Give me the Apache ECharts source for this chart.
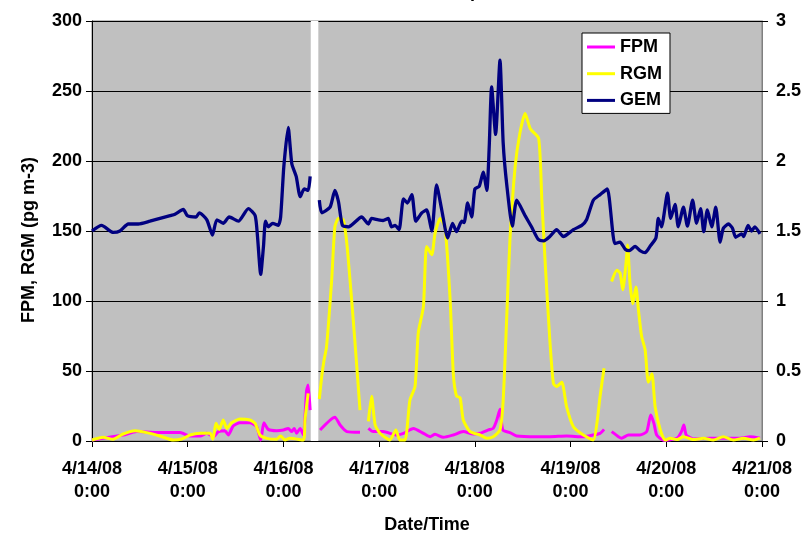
<!DOCTYPE html>
<html>
<head>
<meta charset="utf-8">
<script src="https://cdn.jsdelivr.net/npm/echarts@6/dist/echarts.min.js"></script>
<style>html,body{margin:0;padding:0;background:#fff}#c{width:805px;height:539px}</style>
</head>
<body>
<div id="c"></div>
<script>
// x axis: hours since 4/14/08 0:00
var xTickLabels = ['4/14/08\n0:00','4/15/08\n0:00','4/16/08\n0:00','4/17/08\n0:00','4/18/08\n0:00','4/19/08\n0:00','4/20/08\n0:00','4/21/08\n0:00'];
var leftTickLabels = ['0','50','100','150','200','250','300'];
var rightTickLabels = ['0','0.5','1','1.5','2','2.5','3'];
var seriesNames = ['FPM','RGM','GEM'];
var gapHours = [54.85, 56.75];

var fpmHours = [0,7.8,11.2,16.2,22.1,24.6,27.1,28.8,30.4,31.7,33.3,34.2,35.4,37.1,39.6,41.3,42.3,43.1,44.2,46.3,48,49.2,50.1,50.7,51.3,52.2,53,53.8,54.2,54.7,55.8,57.2,60.9,62.2,63.9,67.2,68.2,69.3,70.5,73,76.4,78.1,80.6,83.1,84.8,86,88.1,90.6,93.1,95.6,97.3,99.4,100.6,101.5,102.3,103,104.8,106.5,111.5,114.8,119,123.2,125.7,127.4,128.4,129.3,130.3,132,132.8,134.5,137.4,139.1,140.1,140.9,141.6,143.3,146.7,147.8,148.4,149,150.8,155,159,162.5,165,167.5];
var fpmValues = [0.7,4.3,6.7,6,6,3.6,3.6,5.5,3.1,6.7,7.4,4.3,10.7,13,13,10.2,0.7,13,8.3,7.4,7.9,9,6.7,9,5.5,9,4.3,36,40,22,null,7.9,17,11.4,6.7,6.2,null,9,6.7,6.7,4.3,5.5,9,5.5,3.1,4.8,2.6,4.3,6.7,5,5.5,7.9,9,15,22.6,7.9,6,3.6,3.1,3.1,3.6,3,4.3,5.5,8.3,null,6.7,3.1,2,4.3,4.3,6.7,18.6,12.6,4.3,0.5,2,6.7,11.4,4.3,1.5,2,2,2,3,2];

var rgmHours = [0,2.8,5.3,7.8,10.8,13.7,17,20.4,22.5,24.6,27.1,29.6,30.3,31.1,31.9,32.9,33.8,35,37.1,39.6,40.9,42.1,43.8,46.3,47.3,48.4,49.6,53,53.4,54.2,55.8,57,57.6,58.2,58.8,60.1,60.9,61.8,63,63.9,65.1,65.9,67.2,68.2,69.3,70.1,71,72.2,74.7,76.2,77.2,78.5,79.7,81,81.8,83.1,83.9,85.2,86,87.3,88.5,89.8,90.6,91.4,92.3,93.1,94.8,97.3,99,100.6,102.3,103.1,104,104.8,106.1,107.3,108.6,109.9,112,112.8,113.7,114.8,115.7,116.5,117.8,119,120.7,123.2,125.7,126.6,127.4,128.4,129.3,130.3,131.6,132.4,133.1,133.9,134.3,134.9,135.6,136.4,137,137.8,138.7,139.5,140.4,141.2,142.5,143.7,145,146.7,148.3,150.8,153.3,155.8,158.3,160.8,163.4,165.9,167.5];
var rgmValues = [0.7,2.6,1.2,5,7.4,6,3.6,0.7,1.4,4.3,5.5,5.5,1.2,12.6,8.3,15,9,13,15.7,15,12.6,4.3,1.9,1.2,3.6,0.7,1.9,0.7,15,34,null,30,46,58,67,115,153,159,158,141,101,72,22,null,14,32,11.4,5.5,0.7,7.9,0.7,0.7,29,39,77,96,139,133,148,159,153,101,48,32,31,15,6.7,4.3,2,3.1,7.9,29,89,144,196,220,234,223,216,172,124,72,41,39,42,24.5,10.2,4.3,0.7,12.6,32,52,null,114,122,120,108,127,140,113,98,110,94,75,65,42,48,24.5,7.9,0.7,2,1,3.1,1,2,0.7,3,0.7,2,0.7,2];

var gemHours = [0,2.4,5.3,7,9.1,11.6,14.5,19.6,20.8,22.9,23.9,26.1,26.9,28.8,30.2,31.3,32.9,34.4,36.7,39.2,40.9,41.5,42.3,43,43.5,44.2,45.3,46.7,47.3,48.1,49.2,50.1,51.2,52.2,53.2,54.2,54.7,55.8,57,57.6,59.7,60.9,61.8,62.8,64.3,67.6,69.3,70.1,71.8,73,74.3,75.1,76,77,78.1,79.1,80.2,81.2,82.7,83.9,85.2,86.4,87.7,89.2,90.4,91.4,92.7,93.3,94.2,95.2,96,97.1,98.1,99,99.6,100.2,101.2,102.3,103.1,104,105.4,106.5,108.6,110.2,111.9,113.3,114.8,116.5,118.2,120.7,122.8,124,125.7,127.4,129.2,131.1,132.4,133.7,134.7,136.2,137.4,138.7,139.9,141.4,142,142.8,144.3,145.1,146.2,147,148.3,149.3,150.6,151.6,152.6,153.4,154.3,155.4,156.4,157.5,158.3,159.6,160.6,161.4,162.9,163.4,164.5,165.4,166.2,167.5];
var gemValues = [1.50,1.54,1.49,1.50,1.55,1.55,1.57,1.61,1.62,1.655,1.61,1.60,1.63,1.58,1.47,1.58,1.555,1.60,1.57,1.66,1.61,1.46,1.19,1.39,1.57,1.53,1.555,1.54,1.60,1.96,2.24,1.98,1.89,1.745,1.80,1.79,1.89,null,1.72,1.63,1.67,1.79,1.71,1.54,1.53,1.60,1.55,1.59,1.58,1.575,1.59,1.53,1.54,1.51,1.73,1.70,1.76,1.57,1.63,1.65,1.50,1.83,1.65,1.45,1.555,1.495,1.57,1.56,1.70,1.60,1.80,1.82,1.92,1.79,2.10,2.53,2.19,2.72,2.13,1.83,1.535,1.72,1.61,1.53,1.44,1.43,1.46,1.51,1.46,1.51,1.54,1.58,1.72,1.76,1.80,1.41,1.42,1.37,1.36,1.39,1.36,1.345,1.39,1.45,1.59,1.53,1.77,1.59,1.69,1.53,1.67,1.535,1.72,1.555,1.66,1.495,1.65,1.53,1.67,1.42,1.52,1.55,1.52,1.455,1.48,1.46,1.54,1.50,1.53,1.48];

function zip(h, v) { return h.map(function (x, i) { return [x, v[i]]; }); }

var FONT = 'Liberation Sans';
var txt = { color: '#000', fontFamily: FONT, fontWeight: 'bold', fontSize: 18 };

var chart = echarts.init(document.getElementById('c'), null, { renderer: 'canvas' });
chart.setOption({
  animation: false,
  backgroundColor: '#fff',
  graphic: [
    { type: 'text', left: 470, top: -17, style: { text: 'p', font: 'bold 18px "Liberation Sans"', fill: '#000' } },
    { type: 'text', left: 506, top: -17, style: { text: ',', font: 'bold 18px "Liberation Sans"', fill: '#000' } }
  ],
  grid: { left: 92, right: 43, top: 21, bottom: 98, show: true, backgroundColor: '#C0C0C0', borderColor: '#808080', borderWidth: 1 },
  legend: {
    data: seriesNames.map(function (n) { return { name: n, icon: 'rect' }; }),
    orient: 'vertical', left: 582, top: 33,
    backgroundColor: '#fff', borderColor: '#000', borderWidth: 1, borderRadius: 0,
    padding: [5, 8, 4, 5], itemWidth: 28, itemHeight: 3, itemGap: 8.7,
    textStyle: { color: '#000', fontFamily: FONT, fontWeight: 'bold', fontSize: 18, lineHeight: 18 }
  },
  xAxis: {
    type: 'value', min: 0, max: 168, interval: 24,
    name: 'Date/Time', nameLocation: 'middle', nameGap: 75,
    nameTextStyle: txt,
    axisLine: { show: true, onZero: false, lineStyle: { color: '#000', width: 1 } },
    axisTick: { show: true, length: 6, lineStyle: { color: '#000' } },
    axisLabel: Object.assign({}, txt, { margin: 16, lineHeight: 23.5, formatter: function (v) { return xTickLabels[Math.round(v / 24)]; } }),
    splitLine: { show: false }
  },
  yAxis: [
    {
      type: 'value', min: 0, max: 300, interval: 50, position: 'left',
      name: 'FPM, RGM (pg m-3)', nameLocation: 'middle', nameGap: 54,
      nameTextStyle: Object.assign({}, txt, { fontSize: 18, padding: [0, 18, 0, 0] }),
      axisLine: { show: true, lineStyle: { color: '#000', width: 1 } },
      axisTick: { show: true, length: 6, lineStyle: { color: '#000' } },
      axisLabel: Object.assign({}, txt, { margin: 10, formatter: function (v) { return leftTickLabels[Math.round(v / 50)]; } }),
      splitLine: { show: true, lineStyle: { color: '#000', width: 1 } }
    },
    {
      type: 'value', min: 0, max: 3, interval: 0.5, position: 'right',
      axisLine: { show: true, lineStyle: { color: '#808080', width: 1 } },
      axisTick: { show: true, length: 6, lineStyle: { color: '#000' } },
      axisLabel: Object.assign({}, txt, { margin: 14, formatter: function (v) { return rightTickLabels[Math.round(v / 0.5)]; } }),
      splitLine: { show: false }
    }
  ],
  series: [
    {
      name: 'FPM', type: 'line', yAxisIndex: 0, data: zip(fpmHours, fpmValues),
      symbol: 'none', smooth: 0.2, connectNulls: false,
      lineStyle: { color: '#FF00FF', width: 3 }, itemStyle: { color: '#FF00FF' },
      markArea: { silent: true, itemStyle: { color: '#FFFFFF', opacity: 1 }, data: [[{ xAxis: gapHours[0] }, { xAxis: gapHours[1] }]] }
    },
    {
      name: 'RGM', type: 'line', yAxisIndex: 0, data: zip(rgmHours, rgmValues),
      symbol: 'none', smooth: 0.2, connectNulls: false,
      lineStyle: { color: '#FFFF00', width: 3 }, itemStyle: { color: '#FFFF00' }
    },
    {
      name: 'GEM', type: 'line', yAxisIndex: 1, data: zip(gemHours, gemValues),
      symbol: 'none', smooth: 0.2, connectNulls: false,
      lineStyle: { color: '#000080', width: 3.3 }, itemStyle: { color: '#000080' }
    }
  ]
});
</script>
</body>
</html>
